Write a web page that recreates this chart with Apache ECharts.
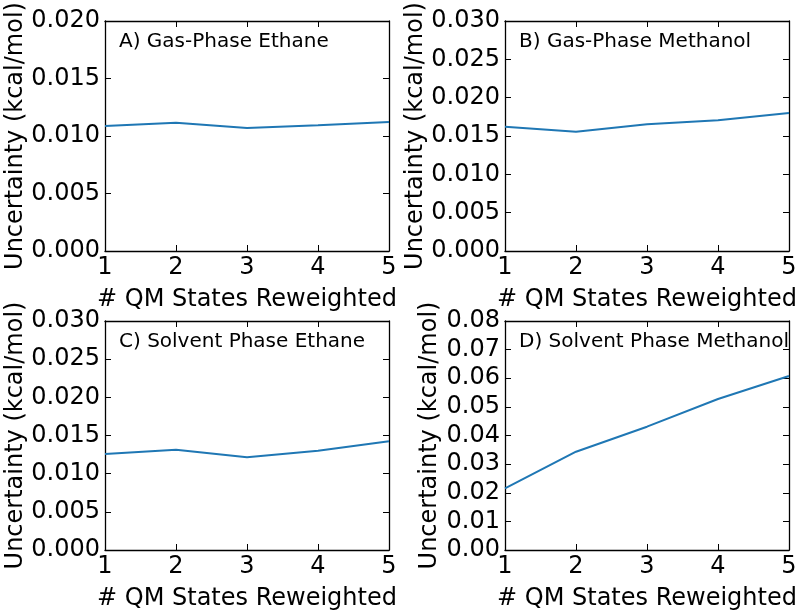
<!DOCTYPE html>
<html>
<head>
<meta charset="utf-8">
<script src="https://cdn.jsdelivr.net/npm/echarts@6/dist/echarts.min.js"></script>
<style>html,body{margin:0;padding:0;background:#fff}#c{width:800px;height:612px}</style>
</head>
<body>
<div id="c"></div>
<script>
const xValues = [1, 2, 3, 4, 5];
const gasEthane = [0.01087, 0.01116, 0.0107, 0.01093, 0.01122];
const gasMethanol = [0.01621, 0.01556, 0.01652, 0.01704, 0.0180];
const solventEthane = [0.01258, 0.01314, 0.01214, 0.01301, 0.01424];
const solventMethanol = [0.02155, 0.03434, 0.04308, 0.05275, 0.0608];
const panelTitles = ['A) Gas-Phase Ethane', 'B) Gas-Phase Methanol', 'C) Solvent Phase Ethane', 'D) Solvent Phase Methanol'];
const yMaxes = [0.02, 0.03, 0.03, 0.08];
const ySteps = [0.005, 0.005, 0.005, 0.01];
const yDecimals = [3, 3, 3, 2];
const xAxisName = '# QM States Reweighted';
const yAxisName = 'Uncertainty (kcal/mol)';

const seriesValues = [gasEthane, gasMethanol, solventEthane, solventMethanol];
const grids = [
  {left: 105, top: 21, width: 284, height: 230},
  {left: 505, top: 21, width: 284, height: 230},
  {left: 105, top: 321, width: 284, height: 229},
  {left: 505, top: 321, width: 284, height: 229}
];
const yNameGaps = [76, 76, 76, 63];
const FONT = 'DejaVu Sans';
const lineStyle = {color: '#000', width: 1.3};
const tickStyle = {show: true, inside: true, length: 6, lineStyle: {color: '#000', width: 1}};

const option = {
  animation: false,
  backgroundColor: '#fff',
  textStyle: {fontFamily: FONT},
  title: [], grid: [], xAxis: [], yAxis: [], series: []
};

for (let i = 0; i < 4; i++) {
  option.grid.push(Object.assign({containLabel: false}, grids[i]));
  option.title.push({
    text: panelTitles[i],
    left: grids[i].left + 14,
    top: grids[i].top + 11,
    padding: 0,
    textStyle: {fontFamily: FONT, fontSize: 20, fontWeight: 'normal', color: '#000'}
  });
  const xBase = {
    type: 'value', gridIndex: i, min: 1, max: 5, interval: 1,
    axisLine: {show: true, onZero: false, lineStyle: lineStyle},
    axisTick: tickStyle, splitLine: {show: false}
  };
  option.xAxis.push(Object.assign({}, xBase, {
    position: 'bottom',
    name: xAxisName, nameLocation: 'middle', nameGap: 37,
    nameTextStyle: {fontFamily: FONT, fontSize: 24, color: '#000'},
    axisLabel: {show: true, margin: 5, fontFamily: FONT, fontSize: 24, color: '#000', showMinLabel: true, showMaxLabel: true}
  }));
  option.xAxis.push(Object.assign({}, xBase, {position: 'top', axisLabel: {show: false}}));
  const dec = yDecimals[i];
  const yBase = {
    type: 'value', gridIndex: i, min: 0, max: yMaxes[i], interval: ySteps[i],
    axisLine: {show: true, onZero: false, lineStyle: lineStyle},
    axisTick: tickStyle, splitLine: {show: false}
  };
  option.yAxis.push(Object.assign({}, yBase, {
    position: 'left',
    name: yAxisName, nameLocation: 'middle', nameGap: yNameGaps[i], nameRotate: 90,
    nameTextStyle: {fontFamily: FONT, fontSize: 24, color: '#000'},
    axisLabel: {show: true, margin: 5, fontFamily: FONT, fontSize: 24, color: '#000',
      showMinLabel: true, showMaxLabel: true,
      formatter: v => v.toFixed(dec)}
  }));
  option.yAxis.push(Object.assign({}, yBase, {position: 'right', axisLabel: {show: false}}));
  option.series.push({
    type: 'line', xAxisIndex: 2 * i, yAxisIndex: 2 * i,
    data: xValues.map((x, k) => [x, seriesValues[i][k]]),
    symbol: 'none', lineStyle: {color: '#1f77b4', width: 2}, itemStyle: {color: '#1f77b4'}
  });
}

const chart = echarts.init(document.getElementById('c'), null, {renderer: 'canvas'});
chart.setOption(option);
</script>
</body>
</html>
